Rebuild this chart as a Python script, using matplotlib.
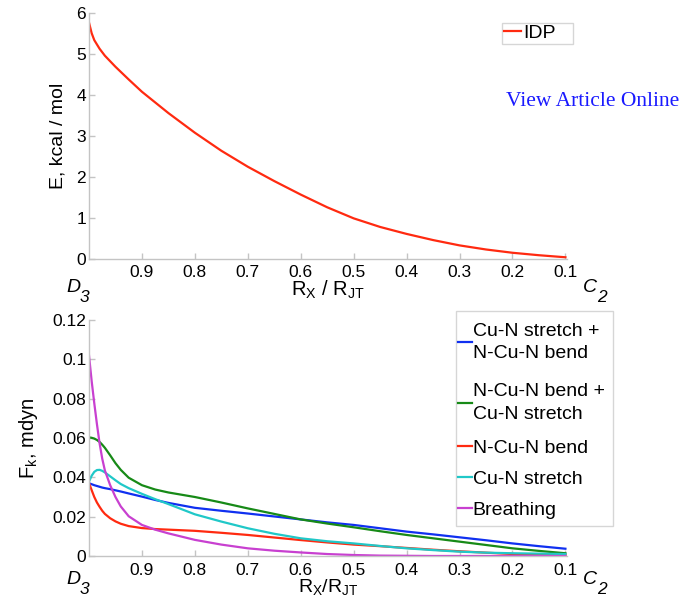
import matplotlib
matplotlib.use("Agg")
import matplotlib.pyplot as plt
from matplotlib.offsetbox import DrawingArea

plt.rcParams['font.family'] = ['Liberation Sans', 'DejaVu Sans']
plt.rcParams['mathtext.fontset'] = 'custom'
plt.rcParams['mathtext.rm'] = 'Liberation Sans'
plt.rcParams['mathtext.it'] = 'Liberation Sans:italic'
plt.rcParams['mathtext.bf'] = 'Liberation Sans:bold'

# ---------------- data ----------------
x_idp = [1.0, 0.995, 0.99, 0.98, 0.97, 0.95, 0.925, 0.9, 0.85, 0.8, 0.75, 0.7,
         0.65, 0.6, 0.55, 0.5, 0.45, 0.4, 0.35, 0.3, 0.25, 0.2, 0.15, 0.1]
e_idp = [5.76, 5.50, 5.33, 5.12, 4.95, 4.68, 4.37, 4.07, 3.55, 3.07, 2.63, 2.24,
         1.89, 1.56, 1.25, 0.98, 0.77, 0.60, 0.45, 0.32, 0.22, 0.14, 0.08, 0.03]

x_fk = [1.0, 0.995, 0.99, 0.985, 0.98, 0.975, 0.97, 0.96, 0.95, 0.94, 0.925, 0.9,
        0.875, 0.85, 0.8, 0.75, 0.7, 0.65, 0.6, 0.55, 0.5, 0.45, 0.4, 0.35, 0.3,
        0.25, 0.2, 0.15, 0.1]
fk_blue = [0.0370, 0.0365, 0.0360, 0.0356, 0.0352, 0.0348, 0.0345, 0.0340, 0.0334, 0.0328,
           0.0318, 0.0302, 0.0285, 0.0270, 0.0245, 0.0230, 0.0216, 0.0201, 0.0186, 0.0171,
           0.0158, 0.0141, 0.0124, 0.0110, 0.0095, 0.0080, 0.0064, 0.0050, 0.0037]
fk_green = [0.0603, 0.0601, 0.0597, 0.0590, 0.0580, 0.0566, 0.0550, 0.0512, 0.0472, 0.0438,
            0.0398, 0.0360, 0.0338, 0.0323, 0.0300, 0.0272, 0.0242, 0.0214, 0.0186, 0.0165,
            0.0146, 0.0126, 0.0107, 0.0090, 0.0073, 0.0056, 0.0039, 0.0026, 0.0014]
fk_red = [0.0370, 0.0335, 0.0300, 0.0272, 0.0250, 0.0230, 0.0214, 0.0192, 0.0176, 0.0164,
          0.0152, 0.0142, 0.0137, 0.0134, 0.0128, 0.0118, 0.0107, 0.0094, 0.0081, 0.0069,
          0.0058, 0.0050, 0.0041, 0.0032, 0.0024, 0.0017, 0.0010, 0.0007, 0.0005]
fk_cyan = [0.0378, 0.0408, 0.0428, 0.0437, 0.0438, 0.0433, 0.0425, 0.0405, 0.0385, 0.0366,
           0.0345, 0.0316, 0.0289, 0.0264, 0.0212, 0.0175, 0.0141, 0.0113, 0.0090, 0.0075,
           0.0064, 0.0051, 0.0039, 0.0030, 0.0022, 0.0017, 0.0014, 0.0012, 0.0010]
fk_mag = [0.1020, 0.0890, 0.0776, 0.0670, 0.0573, 0.0495, 0.0435, 0.0360, 0.0300, 0.0252,
          0.0202, 0.0158, 0.0134, 0.0115, 0.0082, 0.0058, 0.0039, 0.0027, 0.0018, 0.0010,
          0.0005, 0.0002, 0.0001, 0.0, 0.0, 0.0, 0.0, 0.0, 0.0]

labels_fk = ["Cu-N stretch +\nN-Cu-N bend", "N-Cu-N bend +\nCu-N stretch",
             "N-Cu-N bend", "Cu-N stretch", "Breathing"]
colors_fk = ["#1030f0", "#178a17", "#ff2a10", "#20c8c8", "#c840d0"]

xticks = [0.9, 0.8, 0.7, 0.6, 0.5, 0.4, 0.3, 0.2, 0.1]
xticklabels = ["0.9", "0.8", "0.7", "0.6", "0.5", "0.4", "0.3", "0.2", "0.1"]
yticks_top = [0, 1, 2, 3, 4, 5, 6]
yticks_bot = [0, 0.02, 0.04, 0.06, 0.08, 0.1, 0.12]
yticklabels_bot = ["0", "0.02", "0.04", "0.06", "0.08", "0.1", "0.12"]

# ---------------- figure ----------------
W, H = 680, 601
DPI = 100
fig = plt.figure(figsize=(W / DPI, H / DPI), dpi=DPI)
PT = 72.0 / DPI  # px -> points

def px_axes(l, t, r, b):
    return fig.add_axes([l / W, 1 - b / H, (r - l) / W, (b - t) / H])

ax1 = px_axes(89, 12.7, 567, 258.5)
ax2 = px_axes(89, 320, 567, 556)

spine_c = "#c4c4c4"
for ax in (ax1, ax2):
    for s in ("top", "right"):
        ax.spines[s].set_visible(False)
    for s in ("left", "bottom"):
        ax.spines[s].set_color(spine_c)
        ax.spines[s].set_linewidth(1.0)
    ax.set_xlim(1.0, 0.097)
    ax.set_xticks(xticks)
    ax.set_xticklabels(xticklabels)
    ax.tick_params(direction="in", length=4, width=1, color=spine_c,
                   labelsize=12.5, labelcolor="black")
    ax.tick_params(axis="x", pad=5)
    ax.tick_params(axis="y", pad=2)

# top panel
ax1.plot(x_idp, e_idp, color="#ff2a10", lw=1.6, label="IDP")
ax1.set_ylim(0, 6)
ax1.set_yticks(yticks_top)
ax1.set_ylabel("E, kcal / mol", fontsize=14, labelpad=7)
ax1.set_xlabel(r"$\mathrm{R_X}$ / $\mathrm{R_{JT}}$", fontsize=14.5, labelpad=-1)
leg1 = ax1.legend(loc="upper left", bbox_to_anchor=(502 / W, 1 - 22.7 / H),
                  bbox_transform=fig.transFigure, fontsize=14, frameon=True,
                  fancybox=False, handlelength=0.9, handletextpad=0.1,
                  borderpad=0.1, borderaxespad=0)
leg1.get_frame().set_edgecolor("#cccccc")
leg1.get_frame().set_linewidth(1.0)

# bottom panel
for ys, c, lab in zip([fk_blue, fk_green, fk_red, fk_cyan, fk_mag], colors_fk, labels_fk):
    ax2.plot(x_fk, ys, color=c, lw=1.6, label=lab)
ax2.set_ylim(0, 0.12)
ax2.set_yticks(yticks_bot)
ax2.set_yticklabels(yticklabels_bot)
ax2.set_ylabel(r"$\mathrm{F_k}$, mdyn", fontsize=14.5, labelpad=9)
ax2.set_xlabel(r"$\mathrm{R_X}$/$\mathrm{R_{JT}}$", fontsize=14, labelpad=-0.5)
leg2 = ax2.legend(loc="upper left", bbox_to_anchor=(456 / W, 1 - 311.3 / H),
                  bbox_transform=fig.transFigure, fontsize=14, frameon=True,
                  fancybox=False, handlelength=0.7, handletextpad=0.05,
                  borderpad=0.1, borderaxespad=0, labelspacing=0.5)
leg2.get_frame().set_edgecolor("#cccccc")
leg2.get_frame().set_linewidth(1.0)
for t in leg2.get_texts():
    t.set_linespacing(1.43)

# ---- adjust legend inner spacing to match reference box geometry ----
renderer = fig.canvas.get_renderer()

def respace(leg, box_top, box_bottom, box_w, centers):
    fs_px = leg._fontsize * DPI / 72.0
    bp = leg.borderpad * fs_px
    col = leg._legend_handle_box.get_children()[0]
    items = list(col.get_children())
    hs = [it.get_bbox(renderer).height for it in items]
    new = []
    top_sp = max(0.0, (centers[0] - box_top - bp) - hs[0] / 2)
    new.append(DrawingArea((box_w - 2 * bp) * PT, top_sp * PT))
    for i, it in enumerate(items):
        new.append(it)
        if i + 1 < len(items):
            g = (centers[i + 1] - centers[i]) - hs[i] / 2 - hs[i + 1] / 2
            new.append(DrawingArea(0, max(0.0, g) * PT))
    bot_sp = max(0.0, (box_bottom - bp) - (centers[-1] + hs[-1] / 2))
    new.append(DrawingArea(0, bot_sp * PT))
    col.sep = 0
    col._children = new

respace(leg2, 311.3, 526, 156.7, [342.7, 403.0, 448.3, 479.3, 510.0])
respace(leg1, 22.7, 44.0, 71.0, [33.4])

# symmetry labels
def sym(x, y, main, sub):
    fig.text(x / W, 1 - y / H, main, fontsize=14, fontstyle="italic",
             ha="left", va="center")
    fig.text((x + 14) / W, 1 - (y + 9.5) / H, sub, fontsize=12.5, fontstyle="italic",
             ha="left", va="center")

sym(66, 287.5, "D", "3")
sym(583, 287.5, "C", "2")
sym(66, 579.5, "D", "3")
sym(583, 579.5, "C", "2")

fig.text(506 / W, 1 - 102 / H, "View Article Online", fontsize=15.5,
         family="Liberation Serif", color="#1a1aff", ha="left", va="center")

fig.savefig("out.png", dpi=DPI)
